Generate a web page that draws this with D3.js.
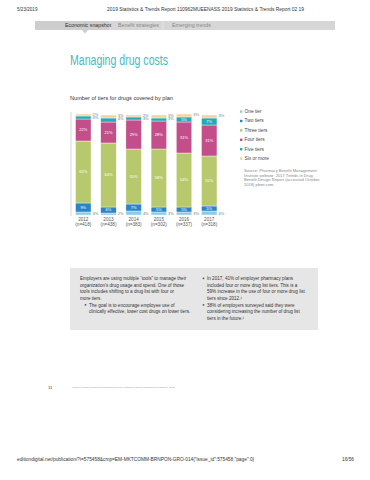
<html>
<head>
  <style>
	body{ margin:0; background:#fff }
	svg text{ font-family:"Liberation Sans Narrow","Liberation Sans",sans-serif }
	.seg{ stroke:#fff; stroke-width:.4px }
	.in{ fill:#fff; font-size:4px; text-anchor:middle }
	.out{ fill:#777; font-size:4px }
	.tick{ fill:#555; font-size:4.6px; text-anchor:middle }
	.leg{ fill:#444; font-size:4.8px }
	.note{ fill:#888; font-size:4.1px }
	.box{ fill:#333; font-size:4.6px }
  </style>
</head>
<body>
	<div id="chart"></div>
	<script src="https://cdn.jsdelivr.net/npm/d3@7"></script>
	<script>
	  var years   = ['2012', '2013', '2014', '2015', '2016', '2017'],
	      samples = ['(n=418)', '(n=438)', '(n=383)', '(n=302)', '(n=337)', '(n=318)'],
	      tiers   = ['One tier', 'Two tiers', 'Three tiers', 'Four tiers', 'Five tiers', 'Six or more'],
	      oneTier   = [3, 2, 4, 3, 3, 4],
	      twoTiers  = [9, 6, 7, 5, 5, 5],
	      threeTiers= [62, 64, 55, 58, 54, 50],
	      fourTiers = [22, 21, 29, 28, 31, 31],
	      fiveTiers = [3, 4, 3, 3, 5, 7],
	      sixTiers  = [2, 3, 2, 3, 3, 3],
	      colors  = ['#8ccbe6', '#2a84c6', '#b7c96c', '#c24f8a', '#26a8b8', '#f4d2a2'];

	  var series = [oneTier, twoTiers, threeTiers, fourTiers, fiveTiers, sixTiers];
	  var rows = years.map(function (y, i) {
	    var r = { year: y };
	    tiers.forEach(function (t, k) { r[t] = series[k][i]; });
	    return r;
	  });

	  var width = 370, height = 480;
	  var svg = d3.select('#chart').append('svg')
	    .attr('width', width)
	    .attr('height', height);

	  // page header
	  svg.append('text').attr('x', 17).attr('y', 11).attr('font-size', 4.6).attr('fill', '#333')
	    .text('5/23/2019');
	  svg.append('text').attr('x', 107).attr('y', 11).attr('font-size', 4.6).attr('fill', '#333')
	    .attr('textLength', 197).attr('lengthAdjust', 'spacingAndGlyphs')
	    .text('2019 Statistics & Trends Report 110962MUEENASS 2019 Statistics & Trends Report 02 19');

	  // nav bar
	  svg.append('rect').attr('x', 35).attr('y', 21).attr('width', 300).attr('height', 9).attr('fill', '#d6d6d6');
	  svg.append('rect').attr('x', 35).attr('y', 21).attr('width', 75).attr('height', 9).attr('fill', '#cdcdcd');
	  svg.append('line').attr('x1', 110).attr('x2', 110).attr('y1', 21).attr('y2', 30).attr('stroke', '#eee').attr('stroke-width', .6);
	  svg.append('line').attr('x1', 163).attr('x2', 163).attr('y1', 21).attr('y2', 30).attr('stroke', '#eee').attr('stroke-width', .6);
	  svg.append('path').attr('d', 'M82,30L88,30L85,33.5Z').attr('fill', '#cdcdcd');
	  svg.append('text').attr('x', 65).attr('y', 27.3).attr('font-size', 5.3).attr('fill', '#333').text('Economic snapshot');
	  svg.append('text').attr('x', 118).attr('y', 27.3).attr('font-size', 5.3).attr('fill', '#888').text('Benefit strategies');
	  svg.append('text').attr('x', 172).attr('y', 27.3).attr('font-size', 5.3).attr('fill', '#888').text('Emerging trends');

	  // titles
	  svg.append('text').attr('x', 70).attr('y', 65).attr('font-size', 14).attr('fill', '#4db6c1')
	    .attr('textLength', 98).attr('lengthAdjust', 'spacingAndGlyphs')
	    .text('Managing drug costs');
	  svg.append('text').attr('x', 70).attr('y', 100).attr('font-size', 5.6).attr('fill', '#333')
	    .text('Number of tiers for drugs covered by plan');

	  // chart
	  var x = d3.scaleBand()
	    .domain(years)
	    .range([70.5, 222])
	    .paddingInner(0.385)
	    .paddingOuter(0.2);

	  var y = d3.scaleLinear()
	    .domain([0, 100])
	    .range([215, 115]);

	  var stacked = d3.stack().keys(tiers)(rows);

	  var g = svg.append('g');

	  g.append('line')
	    .attr('x1', 71).attr('x2', 71)
	    .attr('y1', 112).attr('y2', 216)
	    .attr('stroke', '#bbb').attr('stroke-width', .6);

	  g.selectAll('g.layer')
	    .data(stacked)
	    .enter().append('g')
	    .attr('class', 'layer')
	    .attr('fill', function (d, i) { return colors[i]; })
	    .selectAll('rect')
	    .data(function (d) { return d; })
	    .enter().append('rect')
	    .attr('class', 'seg')
	    .attr('x', function (d) { return x(d.data.year); })
	    .attr('y', function (d) { return y(d[1]); })
	    .attr('width', x.bandwidth())
	    .attr('height', function (d) { return y(d[0]) - y(d[1]); });

	  // labels inside the bars
	  stacked.forEach(function (layer, k) {
	    layer.forEach(function (d) {
	      var v = d[1] - d[0], cx = x(d.data.year) + x.bandwidth() / 2;
	      var inside = (k === 1 || k === 2 || k === 3 || (k === 4 && v >= 5));
	      if (inside) {
	        g.append('text').attr('class', 'in')
	          .attr('x', cx)
	          .attr('y', (y(d[0]) + y(d[1])) / 2 + 1.4)
	          .text(v + '%');
	      }
	    });
	  });

	  // labels outside the bars
	  rows.forEach(function (r, i) {
	    var rx = x(r.year) + x.bandwidth() + 1.5,
	        top = y(d3.sum(tiers, function (t) { return r[t]; }));
	    g.append('text').attr('class', 'out').attr('x', rx).attr('y', 214.5).text(r['One tier'] + '%');
	    g.append('text').attr('class', 'out').attr('x', rx).attr('y', top + 1.5).text(r['Six or more'] + '%');
	    if (r['Five tiers'] < 5) {
	      g.append('text').attr('class', 'out').attr('x', rx).attr('y', top + 5.2).text(r['Five tiers'] + '%');
	    }
	  });

	  // x ticks
	  years.forEach(function (yr, i) {
	    var cx = x(yr) + x.bandwidth() / 2;
	    g.append('text').attr('class', 'tick').attr('x', cx).attr('y', 220.5).text(yr);
	    g.append('text').attr('class', 'tick').attr('x', cx).attr('y', 225.5).attr('font-size', 3.8).text(samples[i]);
	  });

	  // legend
	  var leg = svg.append('g').attr('transform', 'translate(240,113)');
	  tiers.forEach(function (t, i) {
	    leg.append('rect').attr('x', 0).attr('y', i * 9.4 - 2.6).attr('width', 2.4).attr('height', 2.4).attr('fill', colors[i]);
	    leg.append('text').attr('class', 'leg').attr('x', 4.5).attr('y', i * 9.4).text(t);
	  });

	  var src = ['Source: Pharmacy Benefit Management', 'Institute website: 2017 Trends in Drug',
	             'Benefit Design Report (accessed October', '2018) pbmi.com.'];
	  src.forEach(function (s, i) {
	    svg.append('text').attr('class', 'note').attr('x', 244).attr('y', 172 + i * 4.7).text(s);
	  });

	  // text box
	  svg.append('rect').attr('x', 70).attr('y', 268).attr('width', 248).attr('height', 62).attr('fill', '#e6e6e6');

	  var left = ['Employers are using multiple \u201ctools\u201d to manage their',
	              'organization\u2019s drug usage and spend. One of those',
	              'tools includes shifting to a drug list with four or',
	              'more tiers.'];
	  left.forEach(function (s, i) {
	    svg.append('text').attr('class', 'box').attr('x', 80).attr('y', 280 + i * 6.6).text(s);
	  });
	  svg.append('circle').attr('cx', 85.5).attr('cy', 304.8).attr('r', .9).attr('fill', '#555');
	  ['The goal is to encourage employee use of',
	   'clinically effective, lower cost drugs on lower tiers.'].forEach(function (s, i) {
	    svg.append('text').attr('class', 'box').attr('x', 89).attr('y', 306.5 + i * 6.6).text(s);
	  });

	  svg.append('circle').attr('cx', 203.5).attr('cy', 278.3).attr('r', .9).attr('fill', '#555');
	  ['In 2017, 41% of employer pharmacy plans',
	   'included four or more drug list tiers. This is a',
	   '59% increase in the use of four or more drug list',
	   'tiers since 2012.\u00b9'].forEach(function (s, i) {
	    svg.append('text').attr('class', 'box').attr('x', 207).attr('y', 280 + i * 6.6).text(s);
	  });
	  svg.append('circle').attr('cx', 203.5).attr('cy', 304.8).attr('r', .9).attr('fill', '#555');
	  ['38% of employers surveyed said they were',
	   'considering increasing the number of drug list',
	   'tiers in the future.\u00b9'].forEach(function (s, i) {
	    svg.append('text').attr('class', 'box').attr('x', 207).attr('y', 306.5 + i * 6.6).text(s);
	  });

	  // footer
	  svg.append('text').attr('x', 48).attr('y', 388.5).attr('font-size', 4.4).attr('fill', '#444').text('11');
	  svg.append('text').attr('x', 72).attr('y', 388).attr('font-size', 2.5).attr('fill', '#999')
	    .text('1 2017 Trends in Drug Benefit Design Report, Pharmacy Benefit Management Institute, 2018.');

	  svg.append('text').attr('x', 17).attr('y', 461).attr('font-size', 4.8).attr('fill', '#333')
	    .text('editiondigital.net/publication/?i=575458&cmp=EM-MKTCOMM-BRNPON-GRO-014{"issue_id":575458,"page":0}');
	  svg.append('text').attr('x', 354).attr('y', 461).attr('font-size', 4.8).attr('fill', '#333')
	    .attr('text-anchor', 'end').text('16/56');
	</script>
</body>
</html>
